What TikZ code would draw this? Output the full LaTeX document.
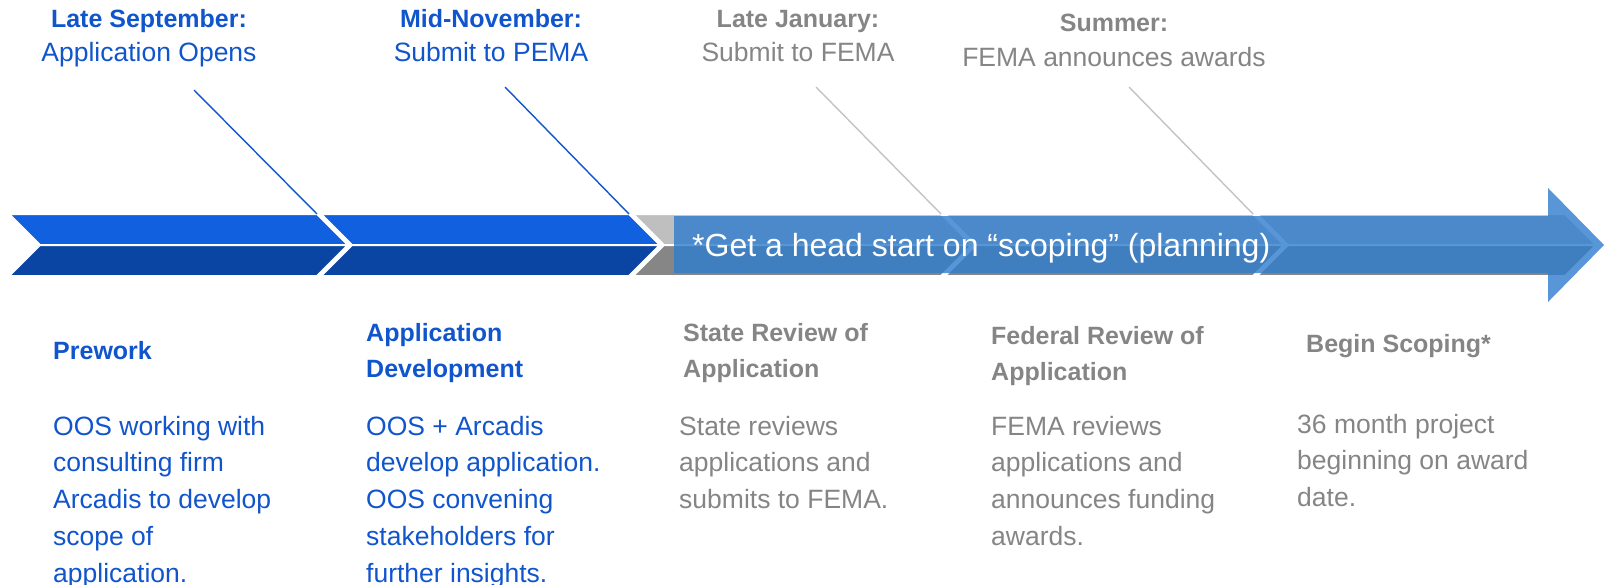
\documentclass[tikz,border=0pt]{standalone}
\usepackage{fontspec}
\setmainfont{Liberation Sans}
\usetikzlibrary{positioning}
\definecolor{oosBlue}{HTML}{1155CC}
\definecolor{oosGray}{HTML}{858585}
\definecolor{chevTop}{HTML}{1060DF}
\definecolor{chevBot}{HTML}{0B45A3}
\definecolor{greyTop}{HTML}{BFBFBF}
\definecolor{greyBot}{HTML}{868686}
\definecolor{arrowBlue}{HTML}{2E7CCE}
\definecolor{lineGray}{HTML}{C3C3C3}
\newcommand{\phaselines}[1]{\begin{tabular}[t]{@{}l@{}}#1\end{tabular}}
\tikzstyle{dateText} = [inner sep=0, anchor=base, font=\bfseries\fontsize{25}{34}\selectfont]
\tikzstyle{eventText} = [inner sep=0, anchor=base, font=\fontsize{26.5}{34}\selectfont]
\tikzstyle{phaseHead} = [inner sep=0, anchor=base west, font=\bfseries\fontsize{25}{36}\selectfont]
\tikzstyle{phaseBody} = [inner sep=0, anchor=base west, font=\fontsize{26.5}{36.8}\selectfont]
\tikzstyle{chevron} = [draw=white, line width=2pt, line join=miter]
\tikzstyle{blueLink} = [oosBlue, line width=1.4pt]
\tikzstyle{grayLink} = [lineGray, line width=1.4pt]

\begin{document}
\begin{tikzpicture}[x=1pt, y=-1pt]
  \useasboundingbox (0,0) rectangle (1605,584);
  % chevron band
  \foreach \s/\ct/\cb [count=\i] in {9/chevTop/chevBot, 321/chevTop/chevBot,
      633/greyTop/greyBot, 945/greyTop/greyBot, 1257/greyTop/greyBot} {
    \path[chevron, fill=\ct] (\s,214) -- (\s+308,214) -- (\s+339,245) -- (\s+31,245) -- cycle;
    \path[chevron, fill=\cb] (\s+31,245) -- (\s+339,245) -- (\s+308,276) -- (\s,276) -- cycle;
    \coordinate (c\i) at (\s+308,214); % corner of chevron
  }
  % date labels
  \node[dateText, text=oosBlue] (sep) at (149,27.6) {Late September:};
  \node[eventText, text=oosBlue] (opens) at (149,61.4) {Application Opens};
  \node[dateText, text=oosBlue] (nov) at (491,27.6) {Mid-November:};
  \node[eventText, text=oosBlue] (pema) at (491,61.4) {Submit to PEMA};
  \node[dateText, text=oosGray] (jan) at (798,27.6) {Late January:};
  \node[eventText, text=oosGray] (fema) at (798,61.4) {Submit to FEMA};
  \node[dateText, text=oosGray] (summer) at (1114,31) {Summer:};
  \node[eventText, text=oosGray] (awards) at (1114,66.5) {FEMA announces awards};
  \coordinate (s1) at (194,90);
  \coordinate (s2) at (505,87);
  \coordinate (s3) at (816,87);
  \coordinate (s4) at (1129,87);
  % connectors
  \draw[blueLink] (s1) -- (c1);
  \draw[blueLink] (s2) -- (c2);
  \draw[grayLink] (s3) -- (c3);
  \draw[grayLink] (s4) -- (c4);
  % translucent arrow
  \path[fill=arrowBlue, fill opacity=0.8] (674,216) -- (1548,216) -- (1548,188)
    -- (1604,245) -- (1548,302) -- (1548,273) -- (674,273) -- cycle;
  \node[inner sep=0, anchor=base west, text=white, font=\fontsize{32}{36}\selectfont]
    (headstart) at (692,256) {*Get a head start on “scoping” (planning)};
  % phases
  \node[phaseHead, text=oosBlue] (prework) at (53,359) {Prework};
  \node[phaseBody, text=oosBlue] (preworkTxt) at (53,435)
    {\phaselines{OOS working with\\consulting firm\\Arcadis to develop\\scope of\\application.}};
  \node[phaseHead, text=oosBlue] (appdev) at (366,341) {\phaselines{Application\\Development}};
  \node[phaseBody, text=oosBlue] (appdevTxt) at (366,435)
    {\phaselines{OOS + Arcadis\\develop application.\\OOS convening\\stakeholders for\\further insights.}};
  \node[phaseHead, text=oosGray] (state) at (683,341) {\phaselines{State Review of\\Application}};
  \node[phaseBody, text=oosGray] (stateTxt) at (679,435)
    {\phaselines{State reviews\\applications and\\submits to FEMA.}};
  \node[phaseHead, text=oosGray] (federal) at (991,344) {\phaselines{Federal Review of\\Application}};
  \node[phaseBody, text=oosGray] (federalTxt) at (991,435)
    {\phaselines{FEMA reviews\\applications and\\announces funding\\awards.}};
  \node[phaseHead, text=oosGray] (scoping) at (1306,352) {Begin Scoping*};
  \node[phaseBody, text=oosGray] (scopingTxt) at (1297,433)
    {\phaselines{36 month project\\beginning on award\\date.}};
\end{tikzpicture}
\end{document}
